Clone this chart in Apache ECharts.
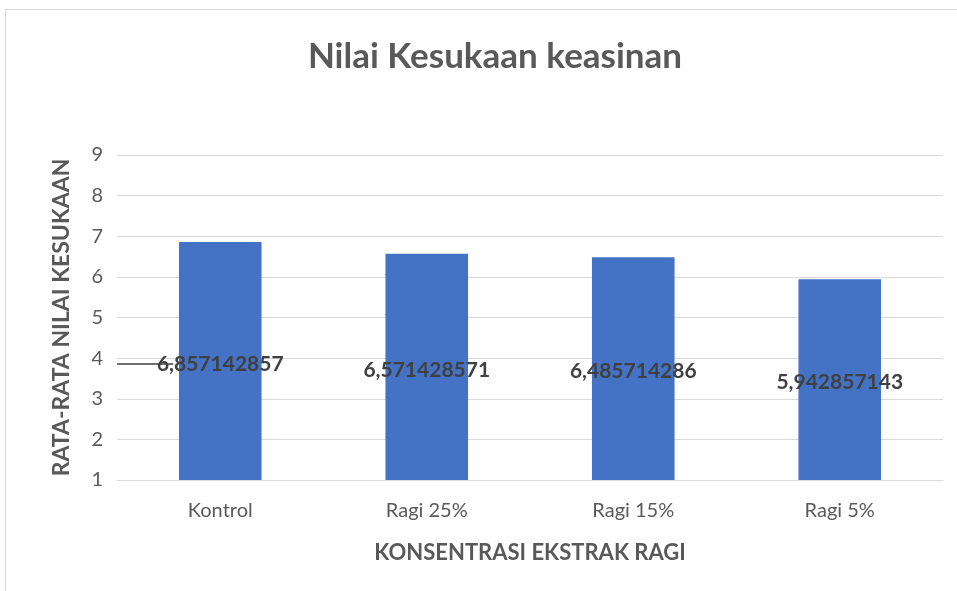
<!DOCTYPE html>
<html>
<head>
<meta charset="utf-8">
<script src="https://cdn.jsdelivr.net/npm/echarts@6/dist/echarts.min.js"></script>
<style>
  html, body { margin: 0; padding: 0; background: #fff; }
  #frame { position: absolute; left: 5px; top: 9px; width: 1000px; height: 700px; border: 1px solid #d9d9d9; }
  #main { position: absolute; left: 0; top: 0; width: 957px; height: 591px; }
</style>
</head>
<body>
<div id="frame"></div>
<div id="main"></div>
<script>
var categories = ["Kontrol", "Ragi 25%", "Ragi 15%", "Ragi 5%"];
var values = [6.857142857, 6.571428571, 6.485714286, 5.942857143];
var yTicks = [1, 2, 3, 4, 5, 6, 7, 8, 9];

var font = "Lato, 'Open Sans', sans-serif";
var chart = echarts.init(document.getElementById("main"));
var option = {
  animation: false,
  title: {
    text: "Nilai Kesukaan keasinan",
    left: 490,
    textAlign: "center",
    top: 34,
    textStyle: { fontFamily: font, fontSize: 35, fontWeight: "bold", color: "#595959" }
  },
  grid: { left: 117, right: 14, top: 155, bottom: 111 },
  xAxis: {
    type: "category",
    data: categories,
    name: "KONSENTRASI EKSTRAK RAGI",
    nameLocation: "middle",
    nameGap: 62,
    nameTextStyle: { fontFamily: font, fontSize: 22, fontWeight: "bold", color: "#595959" },
    axisLine: { lineStyle: { color: "#d9d9d9" } },
    axisTick: { show: false },
    axisLabel: { fontFamily: font, fontSize: 20, color: "#595959", margin: 21 }
  },
  yAxis: {
    type: "value",
    min: yTicks[0],
    max: yTicks[yTicks.length - 1],
    interval: 1,
    name: "RATA-RATA NILAI KESUKAAN",
    nameLocation: "middle",
    nameGap: 44,
    nameTextStyle: { fontFamily: font, fontSize: 23, fontWeight: "bold", color: "#595959" },
    axisLine: { show: false },
    axisTick: { show: false },
    axisLabel: { fontFamily: font, fontSize: 20, color: "#595959", margin: 14 },
    splitLine: { lineStyle: { color: "#d9d9d9" } }
  },
  series: [{
    type: "bar",
    data: values,
    barWidth: "40%",
    itemStyle: { color: "#4472C4" },
    label: {
      show: true,
      position: "inside",
      offset: [0, 3],
      fontFamily: font,
      fontSize: 21,
      fontWeight: "bold",
      color: "#404040",
      formatter: function (p) { return String(p.value).replace(".", ","); }
    }
  }]
};
chart.setOption(option);

// leader line from the axis to the first label
var mid = (yTicks[0] + values[0]) / 2;
var pLabel = chart.convertToPixel({ gridIndex: 0 }, [categories[0], mid]);
chart.setOption({
  graphic: [{
    type: "line",
    z: 100,
    shape: { x1: 117, y1: pLabel[1] + 3, x2: pLabel[0] - 47, y2: pLabel[1] + 3 },
    style: { stroke: "#404040", lineWidth: 1.5 }
  }]
});
</script>
</body>
</html>
